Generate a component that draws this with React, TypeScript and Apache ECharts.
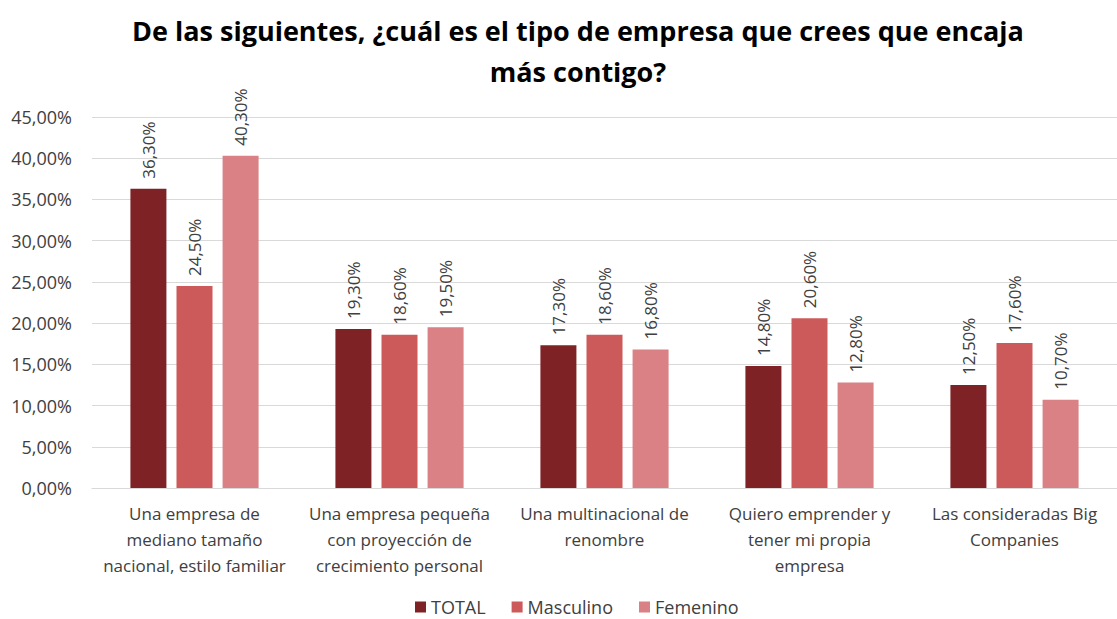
import React, { useEffect, useRef } from "react";
import * as echarts from "echarts";

const categories = [
  "Una empresa de\nmediano tamaño\nnacional, estilo familiar",
  "Una empresa pequeña\ncon proyección de\ncrecimiento personal",
  "Una multinacional de\nrenombre",
  "Quiero emprender y\ntener mi propia\nempresa",
  "Las consideradas Big\nCompanies",
];
const seriesNames = ["TOTAL", "Masculino", "Femenino"];
const total = [36.3, 19.3, 17.3, 14.8, 12.5];
const masculino = [24.5, 18.6, 18.6, 20.6, 17.6];
const femenino = [40.3, 19.5, 16.8, 12.8, 10.7];
const colors = ["#7E2225", "#CD5A5A", "#D98184"];

const fmt = (v: number) => v.toFixed(2).replace(".", ",") + "%";
const FONT = "'Open Sans', 'Noto Sans', sans-serif";

export default function App() {
  const ref = useRef<HTMLDivElement>(null);
  useEffect(() => {
    if (!ref.current) return;
    const chart = echarts.init(ref.current, null, { renderer: "svg" });
    const data = [total, masculino, femenino];
    chart.setOption({
      animation: false,
      backgroundColor: "#ffffff",
      title: {
        text: "De las siguientes, ¿cuál es el tipo de empresa que crees que encaja\nmás contigo?",
        left: 573,
        textAlign: "center",
        top: 5,
        textStyle: {
          fontFamily: FONT,
          fontWeight: "bold",
          fontSize: 27,
          lineHeight: 41,
          color: "#000000",
        },
      },
      legend: {
        data: seriesNames,
        bottom: -2,
        left: 410,
        itemWidth: 11,
        itemHeight: 11,
        itemGap: 26,
        icon: "rect",
        textStyle: { fontFamily: FONT, fontSize: 18, color: "#404040" },
      },
      grid: { left: 92, top: 117, width: 1032, height: 371, containLabel: false },
      xAxis: {
        type: "category",
        data: categories,
        axisLine: { lineStyle: { color: "#d9d9d9" } },
        axisTick: { show: false },
        axisLabel: {
          interval: 0,
          fontFamily: FONT,
          fontSize: 17,
          lineHeight: 26,
          color: "#404040",
          margin: 12,
        },
      },
      yAxis: {
        type: "value",
        min: 0,
        max: 45,
        interval: 5,
        axisLine: { show: false },
        axisTick: { show: false },
        splitLine: { lineStyle: { color: "#d9d9d9", width: 1 } },
        axisLabel: {
          formatter: (v: number) => fmt(v),
          fontFamily: FONT,
          fontSize: 18,
          color: "#404040",
          margin: 20,
        },
      },
      series: seriesNames.map((name, i) => ({
        name,
        type: "bar",
        data: data[i],
        barWidth: 36,
        barGap: "28%",
        itemStyle: { color: colors[i] },
        label: {
          show: true,
          position: "top",
          rotate: 90,
          align: "left",
          verticalAlign: "middle",
          distance: 10,
          formatter: (p: any) => fmt(p.value),
          fontFamily: FONT,
          fontSize: 17,
          color: "#404040",
        },
      })),
    });
    return () => chart.dispose();
  }, []);
  return (
    <div
      ref={ref}
      style={{ position: "fixed", left: 0, top: 0, width: 1117, height: 619 }}
    />
  );
}
